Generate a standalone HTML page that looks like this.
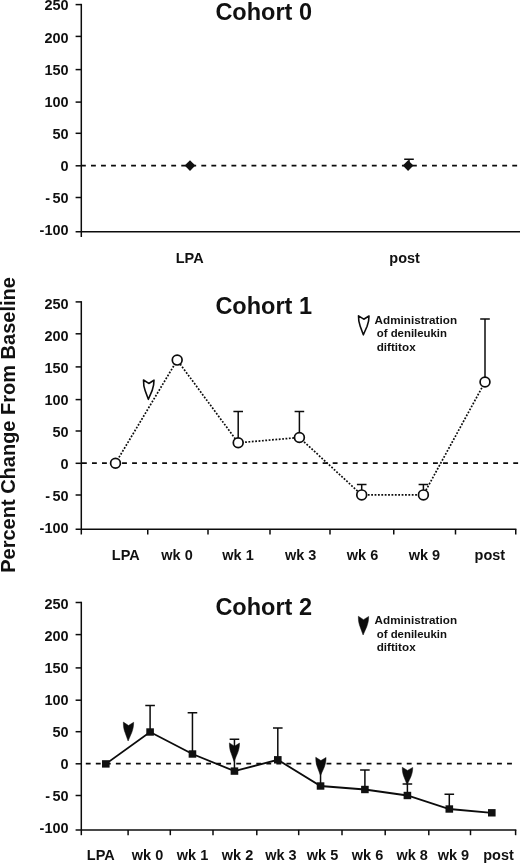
<!DOCTYPE html>
<html><head><meta charset="utf-8"><title>Percent Change From Baseline</title>
<style>
html,body{margin:0;padding:0;background:#fff;}
body{width:520px;height:864px;overflow:hidden;font-family:"Liberation Sans",sans-serif;}
svg{display:block;filter:grayscale(1);}
text{font-family:"Liberation Sans",sans-serif;font-weight:bold;fill:#111;}
.t14{font-size:14px;}
.t23{font-size:23px;}
.t20{font-size:20px;}
.t11{font-size:11.3px;}
.ax{stroke:#0c0c0c;stroke-width:1.5;fill:none;}
.eb{stroke:#0c0c0c;stroke-width:1.5;fill:none;}
.ln{stroke:#0c0c0c;stroke-width:1.8;fill:none;}
.dot{stroke:#0c0c0c;stroke-width:1.7;fill:none;stroke-dasharray:1.8 1.58;}
.oc{fill:#fff;stroke:#0c0c0c;stroke-width:1.7;}
.sq{fill:#111;}
.ao{fill:#fff;stroke:#0c0c0c;stroke-width:1.6;stroke-linejoin:round;}
.af{fill:#0c0c0c;stroke:#0c0c0c;stroke-width:0.5;stroke-linejoin:round;}
</style></head><body>
<svg width="520" height="864" viewBox="0 0 520 864">
<rect width="520" height="864" fill="#fff"/>

<text class="t20" transform="translate(14.8 572.8) rotate(-90)">Percent Change From Baseline</text>
<text transform="translate(215.4 19.5) scale(1.022 1)" class="t23">Cohort 0</text>
<path d="M80.97 165.7 H520" stroke="#0c0c0c" stroke-width="1.7" stroke-dasharray="4.85 5.18" fill="none"/>
<path d="M81.3 3.8499999999999996 V237" class="ax"/>
<path d="M75.6 231.85 H520" class="ax"/>
<path d="M75.6 4.6 H81.3" class="ax"/>
<text transform="translate(68.6 10.4) scale(1.036 1)" text-anchor="end" class="t14">250</text>
<path d="M75.6 36.4 H81.3" class="ax"/>
<text transform="translate(68.6 42.5) scale(1.036 1)" text-anchor="end" class="t14">200</text>
<path d="M75.6 69.6 H81.3" class="ax"/>
<text transform="translate(68.6 74.7) scale(1.036 1)" text-anchor="end" class="t14">150</text>
<path d="M75.6 102.1 H81.3" class="ax"/>
<text transform="translate(68.6 106.8) scale(1.036 1)" text-anchor="end" class="t14">100</text>
<path d="M75.6 133.3 H81.3" class="ax"/>
<text transform="translate(68.6 139.0) scale(1.036 1)" text-anchor="end" class="t14">50</text>
<path d="M75.6 165.8 H81.3" class="ax"/>
<text transform="translate(68.6 171.2) scale(1.036 1)" text-anchor="end" class="t14">0</text>
<path d="M75.6 197.5 H81.3" class="ax"/>
<text transform="translate(68.6 203.3) scale(1.036 1)" text-anchor="end" class="t14">50</text>
<text transform="translate(45.2 203.3) scale(1.036 1)" class="t14">-</text>
<text transform="translate(68.6 235.4) scale(1.036 1)" text-anchor="end" class="t14">-100</text>
<text transform="translate(189.7 262.7) scale(1.036 1)" text-anchor="middle" class="t14">LPA</text>
<text transform="translate(404.6 262.7) scale(1.036 1)" text-anchor="middle" class="t14">post</text>
<path d="M409 165 V159.2 M404.2 159.2 H413.8" class="eb"/>
<path d="M184.7 165.6 L190 160.29999999999998 L195.3 165.6 L190 170.9 Z" class="sq"/>
<path d="M402.8 165.6 L408.1 160.29999999999998 L413.40000000000003 165.6 L408.1 170.9 Z" class="sq"/>
<text transform="translate(215.4 314.3) scale(1.022 1)" class="t23">Cohort 1</text>
<path d="M81.95 463.1 H520" stroke="#0c0c0c" stroke-width="1.7" stroke-dasharray="4.85 5.18" fill="none"/>
<path d="M81.3 301.15 V534.5" class="ax"/>
<path d="M75.6 529.2 H516.4" class="ax"/>
<path d="M75.6 301.9 H81.3" class="ax"/>
<text transform="translate(68.6 308.5) scale(1.036 1)" text-anchor="end" class="t14">250</text>
<path d="M75.6 333.8 H81.3" class="ax"/>
<text transform="translate(68.6 340.5) scale(1.036 1)" text-anchor="end" class="t14">200</text>
<path d="M75.6 366.9 H81.3" class="ax"/>
<text transform="translate(68.6 372.5) scale(1.036 1)" text-anchor="end" class="t14">150</text>
<path d="M75.6 399.6 H81.3" class="ax"/>
<text transform="translate(68.6 404.5) scale(1.036 1)" text-anchor="end" class="t14">100</text>
<path d="M75.6 431 H81.3" class="ax"/>
<text transform="translate(68.6 436.5) scale(1.036 1)" text-anchor="end" class="t14">50</text>
<path d="M75.6 463.3 H81.3" class="ax"/>
<text transform="translate(68.6 468.5) scale(1.036 1)" text-anchor="end" class="t14">0</text>
<path d="M75.6 495 H81.3" class="ax"/>
<text transform="translate(68.6 500.5) scale(1.036 1)" text-anchor="end" class="t14">50</text>
<text transform="translate(45.2 500.5) scale(1.036 1)" class="t14">-</text>
<text transform="translate(68.6 532.5) scale(1.036 1)" text-anchor="end" class="t14">-100</text>
<path d="M147.75 529.2 V534.5" class="ax"/>
<path d="M208 529.2 V534.5" class="ax"/>
<path d="M270 529.2 V534.5" class="ax"/>
<path d="M330 529.2 V534.5" class="ax"/>
<path d="M393.75 529.2 V534.5" class="ax"/>
<path d="M455.5 529.2 V534.5" class="ax"/>
<path d="M515.75 529.2 V534.5" class="ax"/>
<text transform="translate(125.8 559.5) scale(1.036 1)" text-anchor="middle" class="t14">LPA</text>
<text transform="translate(177 559.5) scale(1.036 1)" text-anchor="middle" class="t14">wk 0</text>
<text transform="translate(238 559.5) scale(1.036 1)" text-anchor="middle" class="t14">wk 1</text>
<text transform="translate(300.6 559.5) scale(1.036 1)" text-anchor="middle" class="t14">wk 3</text>
<text transform="translate(362.5 559.5) scale(1.036 1)" text-anchor="middle" class="t14">wk 6</text>
<text transform="translate(424.4 559.5) scale(1.036 1)" text-anchor="middle" class="t14">wk 9</text>
<text transform="translate(489.9 559.5) scale(1.036 1)" text-anchor="middle" class="t14">post</text>
<path d="M115.5 463.2 L177.2 360.1 L238.2 442.8 L299.4 437.5 L361.7 494.9 L423.4 494.9 L485 382" class="dot"/>
<path d="M238.2 442.8 V411.4 M233.39999999999998 411.4 H243.0" class="eb"/>
<path d="M299.4 437.5 V411.4 M294.59999999999997 411.4 H304.2" class="eb"/>
<path d="M361.7 494.9 V484.6 M356.9 484.6 H366.5" class="eb"/>
<path d="M423.4 494.9 V484.5 M418.59999999999997 484.5 H428.2" class="eb"/>
<path d="M485 382 V319 M480.2 319 H489.8" class="eb"/>
<circle cx="115.5" cy="463.2" r="4.9" class="oc"/>
<circle cx="177.2" cy="360.1" r="4.9" class="oc"/>
<circle cx="238.2" cy="442.8" r="4.9" class="oc"/>
<circle cx="299.4" cy="437.5" r="4.9" class="oc"/>
<circle cx="361.7" cy="494.9" r="4.9" class="oc"/>
<circle cx="423.4" cy="494.9" r="4.9" class="oc"/>
<circle cx="485" cy="382" r="4.9" class="oc"/>
<path d="M143.50 380.00 L148.75 383.45 L154.00 380.20 C154.10 384.57 153.00 388.13 152.10 390.67 L148.35 399.30 L145.20 390.67 C144.20 388.13 143.40 384.57 143.50 380.00 Z" class="ao"/>
<path d="M358.50 315.80 L363.75 319.20 L369.00 316.00 C369.10 320.30 368.00 323.80 367.10 326.30 L363.35 334.80 L360.20 326.30 C359.20 323.80 358.40 320.30 358.50 315.80 Z" class="ao"/>
<text transform="translate(374.6 323.6) scale(1.035 1)" class="t11">Administration</text>
<text transform="translate(376.7 337.3) scale(1.01 1)" class="t11">of denileukin</text>
<text transform="translate(376.7 350.7) scale(1.035 1)" class="t11">diftitox</text>
<text transform="translate(215.4 614.9) scale(1.022 1)" class="t23">Cohort 2</text>
<path d="M85.8 763.7 H512.2" stroke="#0c0c0c" stroke-width="1.7" stroke-dasharray="4.85 5.18" fill="none"/>
<path d="M81.3 601.75 V835.2" class="ax"/>
<path d="M75.6 829.9 H516.3" class="ax"/>
<path d="M75.6 602.5 H81.3" class="ax"/>
<text transform="translate(68.6 608.5) scale(1.036 1)" text-anchor="end" class="t14">250</text>
<path d="M75.6 634.6 H81.3" class="ax"/>
<text transform="translate(68.6 640.6) scale(1.036 1)" text-anchor="end" class="t14">200</text>
<path d="M75.6 667.9 H81.3" class="ax"/>
<text transform="translate(68.6 672.7) scale(1.036 1)" text-anchor="end" class="t14">150</text>
<path d="M75.6 700.2 H81.3" class="ax"/>
<text transform="translate(68.6 704.8) scale(1.036 1)" text-anchor="end" class="t14">100</text>
<path d="M75.6 731.7 H81.3" class="ax"/>
<text transform="translate(68.6 736.9) scale(1.036 1)" text-anchor="end" class="t14">50</text>
<path d="M75.6 763.8 H81.3" class="ax"/>
<text transform="translate(68.6 769.0) scale(1.036 1)" text-anchor="end" class="t14">0</text>
<path d="M75.6 795.5 H81.3" class="ax"/>
<text transform="translate(68.6 801.1) scale(1.036 1)" text-anchor="end" class="t14">50</text>
<text transform="translate(45.2 801.1) scale(1.036 1)" class="t14">-</text>
<text transform="translate(68.6 833.2) scale(1.036 1)" text-anchor="end" class="t14">-100</text>
<path d="M128.1 829.9 V835.2" class="ax"/>
<path d="M170.3 829.9 V835.2" class="ax"/>
<path d="M213 829.9 V835.2" class="ax"/>
<path d="M256.8 829.9 V835.2" class="ax"/>
<path d="M298.7 829.9 V835.2" class="ax"/>
<path d="M342.0 829.9 V835.2" class="ax"/>
<path d="M385.2 829.9 V835.2" class="ax"/>
<path d="M428.8 829.9 V835.2" class="ax"/>
<path d="M470.5 829.9 V835.2" class="ax"/>
<path d="M515.6 829.9 V835.2" class="ax"/>
<text transform="translate(100.8 860.0) scale(1.036 1)" text-anchor="middle" class="t14">LPA</text>
<text transform="translate(147.5 860.0) scale(1.036 1)" text-anchor="middle" class="t14">wk 0</text>
<text transform="translate(192.5 860.0) scale(1.036 1)" text-anchor="middle" class="t14">wk 1</text>
<text transform="translate(237.5 860.0) scale(1.036 1)" text-anchor="middle" class="t14">wk 2</text>
<text transform="translate(280.9 860.0) scale(1.036 1)" text-anchor="middle" class="t14">wk 3</text>
<text transform="translate(322.5 860.0) scale(1.036 1)" text-anchor="middle" class="t14">wk 5</text>
<text transform="translate(367.5 860.0) scale(1.036 1)" text-anchor="middle" class="t14">wk 6</text>
<text transform="translate(412.1 860.0) scale(1.036 1)" text-anchor="middle" class="t14">wk 8</text>
<text transform="translate(453.4 860.0) scale(1.036 1)" text-anchor="middle" class="t14">wk 9</text>
<text transform="translate(498.5 860.0) scale(1.036 1)" text-anchor="middle" class="t14">post</text>
<path d="M105.8 763.9 L150.1 732 L192.45 754 L234.45 771.1 L277.8 759.8 L320.55 786 L364.9 789.5 L407.4 795.5 L449.3 809 L491.8 812.8" class="ln"/>
<path d="M150.1 732 V705.6 M145.29999999999998 705.6 H154.9" class="eb"/>
<path d="M192.45 754 V712.8 M187.64999999999998 712.8 H197.25" class="eb"/>
<path d="M234.45 771.1 V739.3 M229.64999999999998 739.3 H239.25" class="eb"/>
<path d="M277.8 759.8 V728 M273.0 728 H282.6" class="eb"/>
<path d="M320.55 786 V770" class="eb"/>
<path d="M364.9 789.5 V769.9 M360.09999999999997 769.9 H369.7" class="eb"/>
<path d="M407.4 795.5 V784.0 M402.59999999999997 784.0 H412.2" class="eb"/>
<path d="M449.3 809 V794.3 M444.5 794.3 H454.1" class="eb"/>
<rect x="102.0" y="760.1999999999999" width="7.6" height="7.4" class="sq"/>
<rect x="146.29999999999998" y="728.3" width="7.6" height="7.4" class="sq"/>
<rect x="188.64999999999998" y="750.3" width="7.6" height="7.4" class="sq"/>
<rect x="230.64999999999998" y="767.4" width="7.6" height="7.4" class="sq"/>
<rect x="274.0" y="756.0999999999999" width="7.6" height="7.4" class="sq"/>
<rect x="316.75" y="782.3" width="7.6" height="7.4" class="sq"/>
<rect x="361.09999999999997" y="785.8" width="7.6" height="7.4" class="sq"/>
<rect x="403.59999999999997" y="791.8" width="7.6" height="7.4" class="sq"/>
<rect x="445.5" y="805.3" width="7.6" height="7.4" class="sq"/>
<rect x="488.0" y="809.0999999999999" width="7.6" height="7.4" class="sq"/>
<path d="M123.35 722.10 L128.50 725.48 L133.65 722.30 C133.75 726.58 132.65 730.06 131.75 732.54 L128.10 741.00 L125.05 732.54 C124.05 730.06 123.25 726.58 123.35 722.10 Z" class="af"/>
<path d="M229.40 742.90 L234.45 746.21 L239.50 743.10 C239.60 747.28 238.50 750.69 237.60 753.12 L234.05 761.40 L231.10 753.12 C230.10 750.69 229.30 747.28 229.40 742.90 Z" class="af"/>
<path d="M315.75 757.30 L320.90 760.57 L326.05 757.50 C326.15 761.63 325.05 765.01 324.15 767.41 L320.50 775.60 L317.45 767.41 C316.45 765.01 315.65 761.63 315.75 757.30 Z" class="af"/>
<path d="M402.30 767.30 L407.50 770.43 L412.70 767.50 C412.80 771.44 411.70 774.67 410.80 776.97 L407.10 784.80 L404.00 776.97 C403.00 774.67 402.20 771.44 402.30 767.30 Z" class="af"/>
<path d="M358.35 616.30 L363.50 619.65 L368.65 616.50 C368.75 620.73 367.65 624.17 366.75 626.63 L363.10 635.00 L360.05 626.63 C359.05 624.17 358.25 620.73 358.35 616.30 Z" class="af"/>
<text transform="translate(374.6 624.2) scale(1.035 1)" class="t11">Administration</text>
<text transform="translate(376.7 637.8) scale(1.01 1)" class="t11">of denileukin</text>
<text transform="translate(376.7 651.2) scale(1.035 1)" class="t11">diftitox</text>
</svg></body></html>
